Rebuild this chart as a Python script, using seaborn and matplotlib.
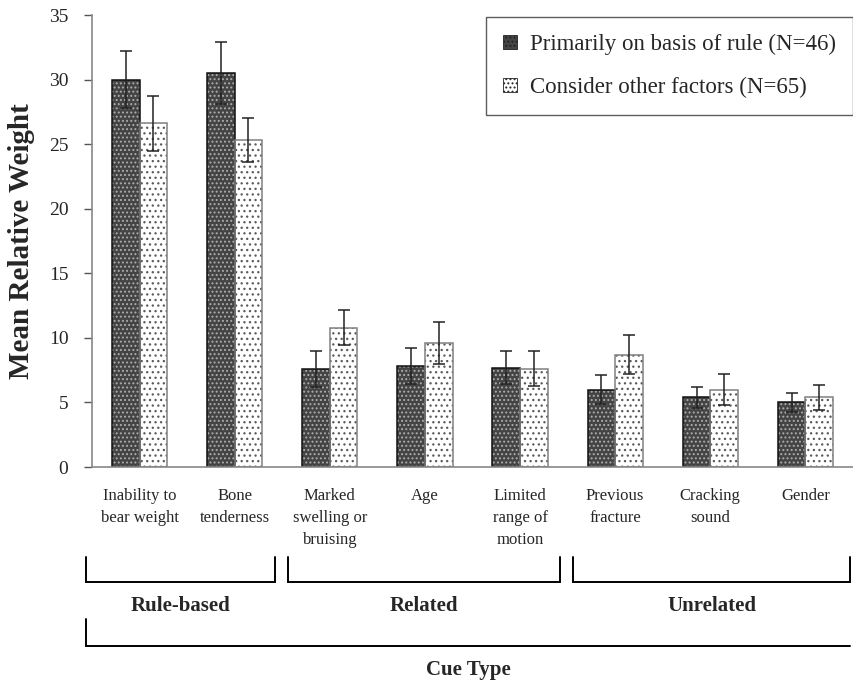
import numpy as np
import pandas as pd
import matplotlib
matplotlib.use("Agg")
import matplotlib.pyplot as plt
from matplotlib.patches import Rectangle, Patch
import seaborn as sns

# ---- data ----
categories = ["Inability to\nbear weight", "Bone\ntenderness", "Marked\nswelling or\nbruising",
              "Age", "Limited\nrange of\nmotion", "Previous\nfracture", "Cracking\nsound", "Gender"]
series = ["Primarily on basis of rule (N=46)", "Consider other factors (N=65)"]
rule_means = [30.0, 30.5, 7.6, 7.8, 7.7, 6.0, 5.4, 5.0]
rule_err = [2.2, 2.4, 1.4, 1.4, 1.25, 1.1, 0.8, 0.75]
other_means = [26.6, 25.3, 10.8, 9.6, 7.6, 8.7, 6.0, 5.4]
other_err = [2.1, 1.7, 1.35, 1.65, 1.35, 1.5, 1.2, 0.95]
groups = ["Rule-based", "Related", "Unrelated"]
group_members = [[0, 1], [2, 3, 4], [5, 6, 7]]
yticks = [0, 5, 10, 15, 20, 25, 30, 35]

df = pd.DataFrame({
    "cue": categories * 2,
    "series": [series[0]] * len(categories) + [series[1]] * len(categories),
    "mean": rule_means + other_means,
})
errs = [rule_err, other_err]
means = [rule_means, other_means]

sns.set_style("white")
plt.rcParams["font.family"] = ["Liberation Serif", "DejaVu Serif"]
plt.rcParams["hatch.linewidth"] = 0.9

fig = plt.figure(figsize=(8.54, 6.8), dpi=100)
ax = fig.add_axes([92 / 854, (680 - 467) / 680, (853 - 92) / 854, (467 - 15) / 680])

sns.barplot(data=df, x="cue", y="mean", hue="series", order=categories,
            hue_order=series, errorbar=None, width=0.58, legend=False, ax=ax)

styles = [
    dict(face="#444444", hatch="....", hcol="#adadad", edge="#111111"),
    dict(face="#ffffff", hatch="...", hcol="#5a5a5a", edge="#808080"),
]
for k, cont in enumerate(ax.containers[:2]):
    st = styles[k]
    xs = []
    for p in cont.patches:
        p.set_facecolor(st["face"])
        p.set_hatch(st["hatch"])
        p.set_edgecolor(st["hcol"])
        p.set_linewidth(0)
        ax.add_patch(Rectangle(p.get_xy(), p.get_width(), p.get_height(), fill=False,
                               edgecolor=st["edge"], lw=1.1, zorder=p.get_zorder() + 0.1))
        xs.append(p.get_x() + p.get_width() / 2)
    ax.errorbar(xs, means[k], yerr=errs[k], fmt="none", ecolor="#222222",
                elinewidth=1.1, capsize=4, capthick=1.1, zorder=5)

ax.set_ylim(0, 35)
ax.set_xlim(-0.5, len(categories) - 0.5)
ax.set_yticks(yticks)
ax.set_yticklabels([str(v) for v in yticks], fontsize=14)
ax.set_xlabel("")
ax.set_ylabel("Mean Relative Weight", fontsize=21, fontweight="bold")
ax.yaxis.set_label_coords(-0.075, 0.5)

ax.set_xticks(range(len(categories)))
ax.set_xticklabels(categories, fontsize=12, linespacing=1.5, va="top")
ax.set_xticks(np.arange(-0.5, len(categories), 1.0), minor=True)
ax.tick_params(axis="x", which="major", length=0, pad=15)
ax.tick_params(axis="x", which="minor", length=6, width=1, color="#555555", direction="out")
ax.tick_params(axis="y", length=6, width=1, color="#555555", direction="out", pad=11, left=True)

for s in ["top", "right"]:
    ax.spines[s].set_visible(False)
for s in ["left", "bottom"]:
    ax.spines[s].set_color("#888888")
    ax.spines[s].set_linewidth(1.2)

# legend
handles = [Patch(facecolor=styles[k]["face"], hatch="....", edgecolor="#222222", lw=0.6)
           for k in range(2)]
leg = ax.legend(handles, series, loc="upper right", bbox_to_anchor=(1.0, 0.996),
                fontsize=16.5, frameon=True, fancybox=False, borderaxespad=0,
                handlelength=0.6, handleheight=0.6, handletextpad=0.55,
                labelspacing=0.95, borderpad=0.75)
leg.get_frame().set_edgecolor("#333333")
leg.get_frame().set_linewidth(1.0)

# group brackets
tr = ax.get_xaxis_transform()
y_top, y_bot = -0.199, -0.254
spans = []
for gi, members in enumerate(group_members):
    lo = members[0] - 0.5 + (0.06 if gi > 0 else -0.066)
    hi = members[-1] + 0.5 - 0.076 if gi < len(group_members) - 1 else members[-1] + 0.47
    spans.append((lo, hi))
    ax.plot([lo, lo, hi, hi], [y_top, y_bot, y_bot, y_top], color="black", lw=1.4,
            transform=tr, clip_on=False, solid_joinstyle="miter")
    ax.text((lo + hi) / 2, -0.308, groups[gi], transform=tr, ha="center", va="center",
            fontsize=15, fontweight="bold")

lo, hi = spans[0][0], spans[-1][1]
ax.plot([lo, lo, hi], [-0.336, -0.396, -0.396], color="black", lw=1.4,
        transform=tr, clip_on=False, solid_joinstyle="miter")
ax.text((lo + hi) / 2, -0.449, "Cue Type", transform=tr, ha="center", va="center",
        fontsize=15, fontweight="bold")

fig.savefig("out.png", dpi=100)
